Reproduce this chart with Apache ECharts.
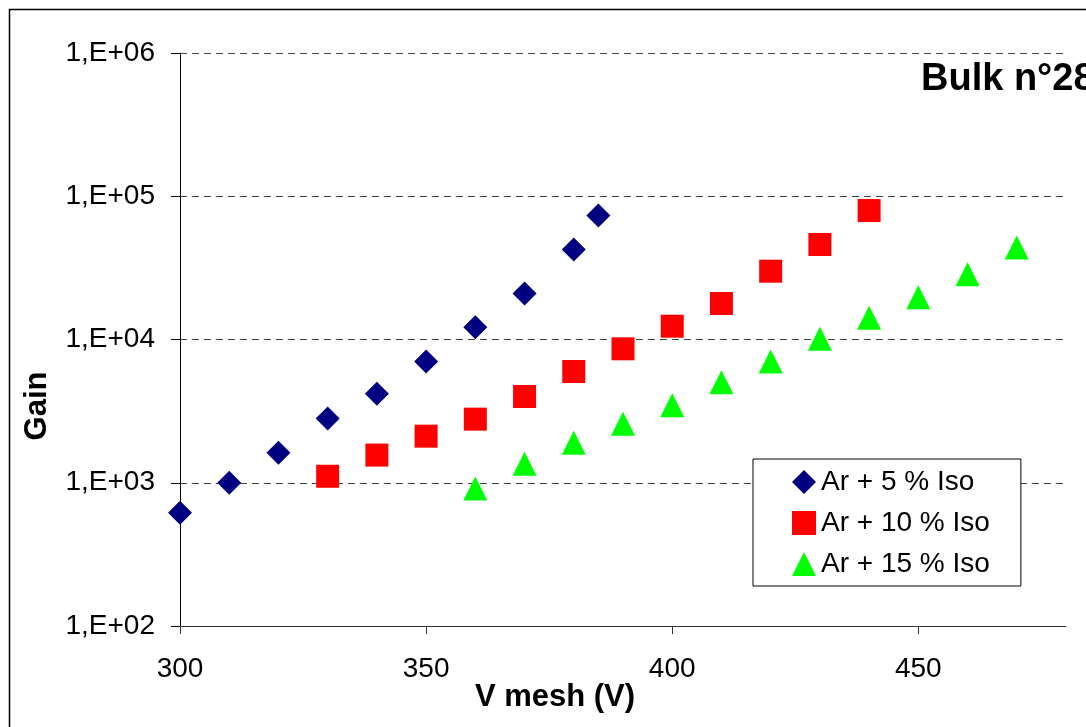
<!DOCTYPE html>
<html>
<head>
<meta charset="utf-8">
<script src="https://cdn.jsdelivr.net/npm/echarts@6/dist/echarts.min.js"></script>
<style>
html,body{margin:0;padding:0;background:#fff;}
#chart{width:1086px;height:727px;}
</style>
</head>
<body>
<div id="chart"></div>
<script>
// ---- data ----
const seriesNames = ['Ar + 5 % Iso', 'Ar + 10 % Iso', 'Ar + 15 % Iso'];
const vmesh5 = [300, 310, 320, 330, 340, 350, 360, 370, 380, 385];
const gain5 = [617, 1000, 1620, 2810, 4180, 7020, 12190, 20940, 42460, 73320];
const vmesh10 = [330, 340, 350, 360, 370, 380, 390, 400, 410, 420, 430, 440];
const gain10 = [1110, 1560, 2115, 2780, 4000, 5980, 8610, 12380, 17830, 29980, 46030, 79470];
const vmesh15 = [360, 370, 380, 390, 400, 410, 420, 430, 440, 450, 460, 470];
const gain15 = [912, 1357, 1901, 2580, 3480, 5035, 7020, 10110, 14170, 19730, 28560, 43850];
const xTickValues = [300, 350, 400, 450];
const yTickValues = [100, 1000, 10000, 100000, 1000000];
const yTickLabels = ['1,E+02', '1,E+03', '1,E+04', '1,E+05', '1,E+06'];
const chartTitle = 'Bulk n°28';
const xTitle = 'V mesh (V)';
const yTitle = 'Gain';

const FONT = '"Liberation Sans", Arial, sans-serif';
const zip = (xs, ys) => xs.map((x, i) => [x, ys[i]]);

const chart = echarts.init(document.getElementById('chart'), null, {renderer: 'canvas'});
chart.setOption({
  animation: false,
  backgroundColor: '#fff',
  grid: {left: 180, right: 20, top: 53, bottom: 101, containLabel: false},
  xAxis: {
    type: 'value', min: 300, max: 480, interval: 50,
    axisLine: {show: true, onZero: false, lineStyle: {color: '#333', width: 1}},
    axisTick: {show: true, inside: false, length: 8, customValues: xTickValues, lineStyle: {color: '#333'}},
    axisLabel: {customValues: xTickValues, margin: 29, color: '#000', fontSize: 28, fontFamily: FONT},
    splitLine: {show: false}
  },
  yAxis: {
    type: 'log', logBase: 10, min: 100, max: 1000000, interval: 1,
    axisLine: {show: true, lineStyle: {color: '#000', width: 1}},
    axisTick: {show: true, inside: false, length: 9, lineStyle: {color: '#000'}},
    minorTick: {show: false},
    axisLabel: {
      margin: 25, color: '#000', fontSize: 28, fontFamily: FONT,
      formatter: v => {
        const i = yTickValues.findIndex(t => Math.abs(t - v) / t < 1e-6);
        return i >= 0 ? yTickLabels[i] : '';
      }
    },
    splitLine: {show: true, lineStyle: {color: '#444', type: [7, 5], width: 1}}
  },
  legend: {
    orient: 'vertical', left: 753, top: 459,
    padding: [9, 31, 8, 39], itemGap: 13,
    itemWidth: 24, itemHeight: 24,
    backgroundColor: '#fff', borderColor: '#000', borderWidth: 1,
    textStyle: {color: '#000', fontSize: 28, fontFamily: FONT},
    data: seriesNames
  },
  graphic: [
    {type: 'rect', silent: true, z: -10, shape: {x: 9.5, y: 9.5, width: 1200, height: 900},
     style: {fill: 'none', stroke: '#000', lineWidth: 1.5}},
    {type: 'text', x: 921, y: 80, z: 10,
     style: {text: chartTitle, font: 'bold 38px ' + FONT, fill: '#000', textAlign: 'left', textVerticalAlign: 'middle'}},
    {type: 'text', x: 555, y: 697, z: 10,
     style: {text: xTitle, font: 'bold 31px ' + FONT, fill: '#000', textAlign: 'center', textVerticalAlign: 'middle'}},
    {type: 'text', x: 37, y: 406, rotation: Math.PI / 2, z: 10,
     style: {text: yTitle, font: 'bold 31px ' + FONT, fill: '#000', textAlign: 'center', textVerticalAlign: 'middle'}}
  ],
  series: [
    {name: seriesNames[0], type: 'scatter', symbol: 'diamond', symbolSize: 24,
     itemStyle: {color: '#000080', opacity: 1}, data: zip(vmesh5, gain5)},
    {name: seriesNames[1], type: 'scatter', symbol: 'rect', symbolSize: 23,
     itemStyle: {color: '#FF0000', opacity: 1}, data: zip(vmesh10, gain10)},
    {name: seriesNames[2], type: 'scatter', symbol: 'triangle', symbolSize: [24, 24],
     itemStyle: {color: '#00FF00', opacity: 1}, data: zip(vmesh15, gain15)}
  ]
});
</script>
</body>
</html>
